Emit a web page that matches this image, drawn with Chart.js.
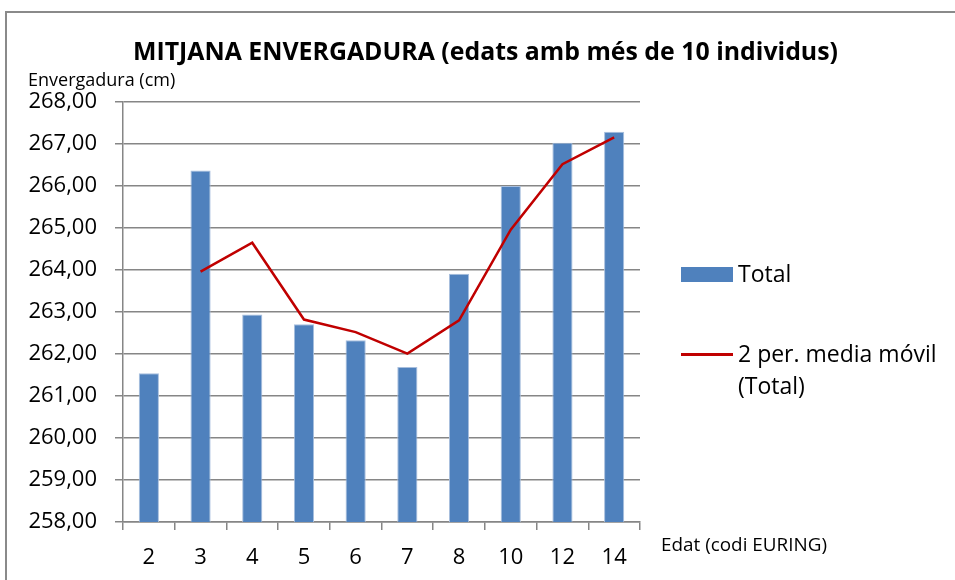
<!DOCTYPE html>
<html>
<head>
<meta charset="utf-8">
<script src="https://cdn.jsdelivr.net/npm/chart.js@4/dist/chart.umd.min.js"></script>
<style>
    html, body { margin: 0; padding: 0; background: #fff; overflow: hidden; }
    #wrap { position: relative; width: 955px; height: 580px; overflow: hidden; }
    #frame { position: absolute; left: 5px; top: 11px; width: 1200px; height: 1200px; border: 2px solid #8a8a8a; box-sizing: border-box; }
    canvas { position: absolute; left: 0; top: 0; }
    .leg { position: absolute; font-family: "Open Sans", sans-serif; font-size: 23px; color: #000; line-height: 32px; }
    .sw-bar { position: absolute; left: 681px; top: 267px; width: 52px; height: 15px; background: #4F81BD; }
    .sw-line { position: absolute; left: 681px; top: 353px; width: 52px; height: 2.5px; background: #C00000; }
</style>
</head>
<body>
<div id="wrap">
    <div id="frame"></div>
    <canvas id="chart" width="955" height="580"></canvas>
    <div class="sw-bar"></div>
    <div class="leg" style="left:738px; top:257px;">Total</div>
    <div class="sw-line"></div>
    <div class="leg" style="left:738px; top:337px;">2 per. media móvil<br>(Total)</div>
</div>
<script>
// Edat (codi EURING)
const categories = ['2', '3', '4', '5', '6', '7', '8', '10', '12', '14'];
// Mitjana envergadura (cm)
const totals = [261.54, 266.37, 262.94, 262.71, 262.33, 261.69, 263.91, 266.00, 267.03, 267.29];
// 2 per. media móvil (Total), llegida del gràfic
const movingAvg = [null, 263.96, 264.65, 262.82, 262.52, 262.01, 262.80, 264.96, 266.52, 267.16];
const yMin = 258;
const yMax = 268;
const yStep = 1;

const titleText = 'MITJANA ENVERGADURA (edats amb més de 10 individus)';
const yTitleText = 'Envergadura (cm)';
const xTitleText = 'Edat (codi EURING)';

// textos fixos (títol i títols d'eixos horitzontals)
const textPlugin = {
    id: 'texts',
    afterDraw(chart) {
        const ctx = chart.ctx;
        ctx.save();
        ctx.fillStyle = '#000';
        ctx.textBaseline = 'alphabetic';

        ctx.font = 'bold 25px "Open Sans"';
        ctx.textAlign = 'center';
        ctx.fillText(titleText, 485.5, 60, 705);

        ctx.font = '18px "Open Sans"';
        ctx.textAlign = 'left';
        ctx.fillText(yTitleText, 28, 86, 150);
        ctx.font = '19px "Open Sans"';
        ctx.fillText(xTitleText, 661, 551, 166);
        ctx.restore();
    }
};

const ctx = document.getElementById('chart');
new Chart(ctx, {
    type: 'bar',
    data: {
        labels: categories,
        datasets: [{
            type: 'line',
            label: '2 per. media móvil (Total)',
            data: movingAvg,
            borderColor: '#C00000',
            borderWidth: 2.5,
            pointRadius: 0,
            tension: 0,
            spanGaps: false,
            order: 0
        }, {
            label: 'Total',
            data: totals,
            backgroundColor: '#4F81BD',
            borderColor: '#A7BEDD',
            borderWidth: 1,
            barPercentage: 0.39,
            categoryPercentage: 1,
            order: 1
        }]
    },
    options: {
        responsive: false,
        animation: false,
        devicePixelRatio: 1,
        layout: { padding: { left: 0, top: 102, right: 315, bottom: 0 } },
        plugins: {
            legend: { display: false },
            title: { display: false },
            tooltip: { enabled: false }
        },
        scales: {
            x: {
                afterFit(scale) { scale.height = 58; },
                grid: {
                    offset: true,
                    drawOnChartArea: false,
                    drawTicks: true,
                    tickLength: 8,
                    color: '#868686',
                    lineWidth: 1.5
                },
                border: { color: '#868686', width: 1.5 },
                ticks: {
                    color: '#000',
                    padding: 15,
                    maxRotation: 0,
                    font: { family: 'Open Sans', size: 22 }
                }
            },
            y: {
                min: yMin,
                max: yMax,
                afterFit(scale) { scale.width = 123; },
                grid: {
                    color: '#868686',
                    lineWidth: 1.5,
                    tickLength: 8
                },
                border: { color: '#868686', width: 1.5 },
                ticks: {
                    stepSize: yStep,
                    color: '#000',
                    padding: 18,
                    font: { family: 'Open Sans', size: 22 },
                    callback: v => v.toFixed(2).replace('.', ',')
                }
            }
        }
    },
    plugins: [textPlugin]
});
</script>
</body>
</html>
